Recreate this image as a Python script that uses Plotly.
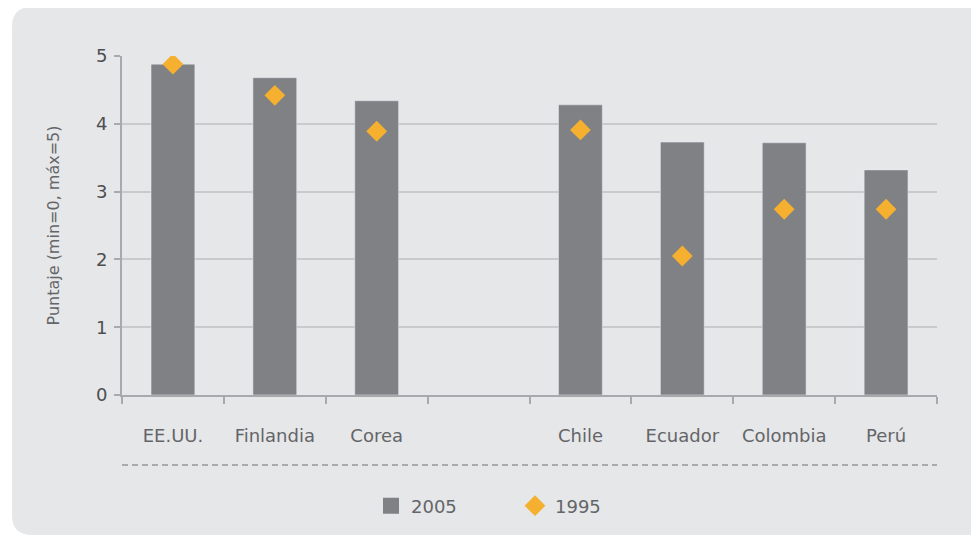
import plotly.graph_objects as go

categories = ["EE.UU.", "Finlandia", "Corea", " ", "Chile", "Ecuador", "Colombia", "Perú"]
values_2005 = [4.88, 4.68, 4.34, None, 4.28, 3.73, 3.72, 3.32]
values_1995 = [4.88, 4.42, 3.89, None, 3.91, 2.05, 2.74, 2.74]
y_ticks = [0, 1, 2, 3, 4, 5]

OFF = 8  # page body margin
W, H = 979 - OFF, 536 - OFF
L, R, T, B = 122 - OFF, 937 - OFF, 56 - OFF, 395 - OFF

def px(xp):
    xp -= OFF
    return (xp - L) / (R - L)

def py(yp):
    yp -= OFF
    return (B - yp) / (B - T)

TEXT = "#646568"
BAR = "#808184"
DIAM = "#f4b02e"
FONT = "DejaVu Sans"

fig = go.Figure()
fig.add_trace(go.Bar(x=categories, y=values_2005, marker=dict(color=BAR), showlegend=False, name="2005"))
fig.add_trace(go.Scatter(x=[None], y=[None], mode="markers", name="2005",
                         marker=dict(symbol="square", size=18, color=BAR)))
fig.add_trace(go.Scatter(x=categories, y=values_1995, mode="markers", name="1995",
                         marker=dict(symbol="diamond", size=16, color=DIAM)))

# rounded panel background
x0, x1, y0, y1, r = px(12), px(1000), py(7), py(535), 20
rx = r / (R - L)
ry = r / (B - T)
path = (f"M {x0+rx},{y0} L {x1},{y0} L {x1},{y1} L {x0+rx},{y1} "
        f"Q {x0},{y1} {x0},{y1+ry} L {x0},{y0-ry} Q {x0},{y0} {x0+rx},{y0} Z")
fig.add_shape(type="path", path=path, xref="paper", yref="paper",
              fillcolor="#e6e7e8", line=dict(width=0), layer="below")
# dashed separator
fig.add_shape(type="line", xref="paper", yref="paper", x0=0, x1=1, y0=py(465), y1=py(465),
              line=dict(color="#6d6e71", width=1.2, dash="6px,4px"))

fig.update_layout(
    width=W, height=H,
    margin=dict(l=L, r=W - R, t=T, b=H - B, autoexpand=False),
    paper_bgcolor="white", plot_bgcolor="rgba(0,0,0,0)",
    bargap=0.57,
    font=dict(family=FONT, color=TEXT, size=16),
    legend=dict(orientation="h", x=px(371), xanchor="left", y=py(506), yanchor="middle",
                font=dict(size=18, color=TEXT), bgcolor="rgba(0,0,0,0)",
                entrywidth=99, entrywidthmode="pixels"),
    xaxis=dict(type="category", categoryorder="array", categoryarray=categories,
               tickson="boundaries", ticks="outside", ticklen=7, tickwidth=2,
               tickcolor="#a7a9ac", showline=True, linecolor="#a7a9ac", linewidth=2,
               showgrid=False, tickfont=dict(size=18, color=TEXT), ticklabelstandoff=23,
               fixedrange=True),
    yaxis=dict(range=[0, 5], tickvals=y_ticks, ticks="outside", ticklen=6, tickwidth=2,
               tickcolor="#a7a9ac", showline=True, linecolor="#a7a9ac", linewidth=2,
               showgrid=True, gridcolor="#c9cacc", gridwidth=2, zeroline=False,
               tickfont=dict(size=18, color="#4d4e51"), ticklabelstandoff=3,
               title=dict(text="Puntaje (min=0, máx=5)", font=dict(size=16, color=TEXT), standoff=32),
               fixedrange=True),
)

fig.write_html("out.html")
